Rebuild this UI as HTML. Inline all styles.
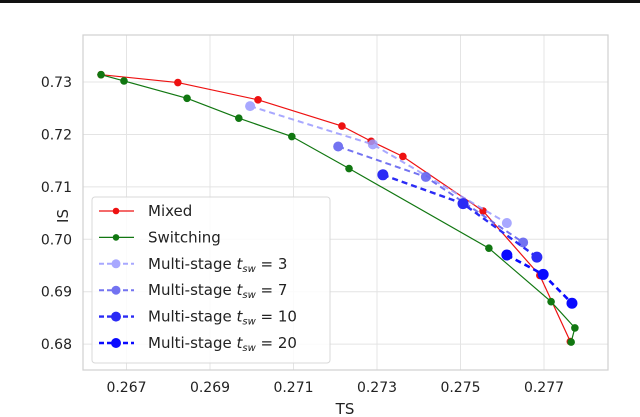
<!DOCTYPE html>
<html><head><meta charset="utf-8"><style>
body{margin:0;background:#fff;width:640px;height:417px;overflow:hidden}
svg{display:block;font-family:"DejaVu Sans","Liberation Sans",sans-serif}
</style></head><body>
<svg id="chart" width="640" height="417">
<rect x="0" y="0" width="640" height="3" fill="#111"/>
<g id="grid"></g>
<rect x="83" y="35" width="525" height="335" fill="none" stroke="#d0d0d0" stroke-width="1.2"/>
<g id="ticks"></g>
<g id="series"></g>
<text x="345" y="414" font-size="15" text-anchor="middle" fill="#222">TS</text>
<text transform="translate(68,216) rotate(-90)" font-size="15" text-anchor="middle" fill="#222">IS</text>
<g id="legend"></g>
</svg>
<script>
const xTicks=[0.267,0.269,0.271,0.273,0.275,0.277];
const yTicks=[0.68,0.69,0.70,0.71,0.72,0.73];
const mixedX=[0.26639,0.26823,0.27015,0.27216,0.27286,0.27362,0.27554,0.27690,0.27763];
const mixedY=[0.7314,0.7299,0.7266,0.7216,0.7187,0.7158,0.7054,0.6931,0.6805];
const switchX=[0.26639,0.26694,0.26845,0.26969,0.27096,0.27233,0.27568,0.27717,0.27774,0.27765];
const switchY=[0.7314,0.7302,0.7269,0.7231,0.7196,0.7135,0.6983,0.6881,0.6831,0.6804];
const ms3X=[0.26996,0.27290,0.27611];
const ms3Y=[0.7254,0.7181,0.7031];
const ms7X=[0.27207,0.27417,0.27650];
const ms7Y=[0.7177,0.7119,0.6994];
const ms10X=[0.27314,0.27506,0.27683];
const ms10Y=[0.7123,0.7068,0.6966];
const ms20X=[0.27611,0.27698,0.27767];
const ms20Y=[0.6970,0.6933,0.6878];
const NS='http://www.w3.org/2000/svg';
const sx=v=>377+(v-0.273)/0.001*41.75;
const sy=v=>239.3-(v-0.70)*5243;
function mk(tag,parent,attrs){const e=document.createElementNS(NS,tag);for(const k in attrs)e.setAttribute(k,attrs[k]);parent.appendChild(e);return e;}
const grid=document.getElementById('grid'),ticks=document.getElementById('ticks'),ser=document.getElementById('series'),leg=document.getElementById('legend');
xTicks.forEach(t=>{const x=sx(t);
 const l=mk('line',grid,{x1:x,x2:x,y1:35,y2:370,stroke:'#e4e4e4','stroke-width':1});
 
 
 const tx=mk('text',ticks,{x:x,y:392,'font-size':14,'text-anchor':'middle',fill:'#222'});tx.textContent=t.toFixed(3);
 
 });
yTicks.forEach(t=>{const y=sy(t);
 const l=mk('line',grid,{x1:83,x2:608,y1:y,y2:y,stroke:'#e4e4e4','stroke-width':1});
 
 
 const tx=mk('text',ticks,{x:72,y:y+5,'font-size':14,'text-anchor':'end',fill:'#222'});tx.textContent=t.toFixed(2);
 
 });
const S=[
 {n:'mixed',xs:mixedX,ys:mixedY,c:'#ee1111',w:1.2,d:'',r:3.8,op:1},
 {n:'switching',xs:switchX,ys:switchY,c:'#117711',w:1.2,d:'',r:3.8,op:1},
 {n:'multi-stage-3',xs:ms3X,ys:ms3Y,c:'#9a9aff',w:2,d:'6,4',r:5,op:0.85},
 {n:'multi-stage-7',xs:ms7X,ys:ms7Y,c:'#6464f0',w:2,d:'6,4',r:5,op:0.9},
 {n:'multi-stage-10',xs:ms10X,ys:ms10Y,c:'#2b2bf5',w:2.4,d:'6,4',r:5.5,op:1},
 {n:'multi-stage-20',xs:ms20X,ys:ms20Y,c:'#0a0aff',w:2.6,d:'6,4',r:5.5,op:1}];
S.forEach(s=>{const g=mk('g',ser,{opacity:s.op});
 
 
 const p=mk('polyline',g,{points:s.xs.map((x,i)=>sx(x)+','+sy(s.ys[i])).join(' '),fill:'none',stroke:s.c,'stroke-width':s.w,'stroke-dasharray':s.d});
 
 
 s.xs.forEach((x,i)=>{const c=mk('circle',g,{cx:sx(x),cy:sy(s.ys[i]),r:s.r,fill:s.c});
  
  });});
const lb=mk('rect',leg,{x:92,y:197,width:238,height:166,rx:3,fill:'#fff','fill-opacity':0.85,stroke:'#d8d8d8'});


const labels=['Mixed','Switching','Multi-stage <tspan font-style="italic">t</tspan><tspan font-style="italic" font-size="10" dy="3">sw</tspan><tspan dy="-3"> = 3</tspan>','Multi-stage <tspan font-style="italic">t</tspan><tspan font-style="italic" font-size="10" dy="3">sw</tspan><tspan dy="-3"> = 7</tspan>','Multi-stage <tspan font-style="italic">t</tspan><tspan font-style="italic" font-size="10" dy="3">sw</tspan><tspan dy="-3"> = 10</tspan>','Multi-stage <tspan font-style="italic">t</tspan><tspan font-style="italic" font-size="10" dy="3">sw</tspan><tspan dy="-3"> = 20</tspan>'];
S.forEach((s,i)=>{const y=211+i*26.4;const g=mk('g',leg,{opacity:s.op});
 
 
 mk('line',g,{x1:99,x2:134,y1:y,y2:y,stroke:s.c,'stroke-width':s.w,'stroke-dasharray':s.d?'5,3':''});
 mk('circle',g,{cx:116,cy:y,r:s.r-0.5,fill:s.c});
 const t=mk('text',leg,{x:148,y:y+5,'font-size':15,fill:'#222'});t.innerHTML=labels[i];
 
 });
</script>
</body></html>
